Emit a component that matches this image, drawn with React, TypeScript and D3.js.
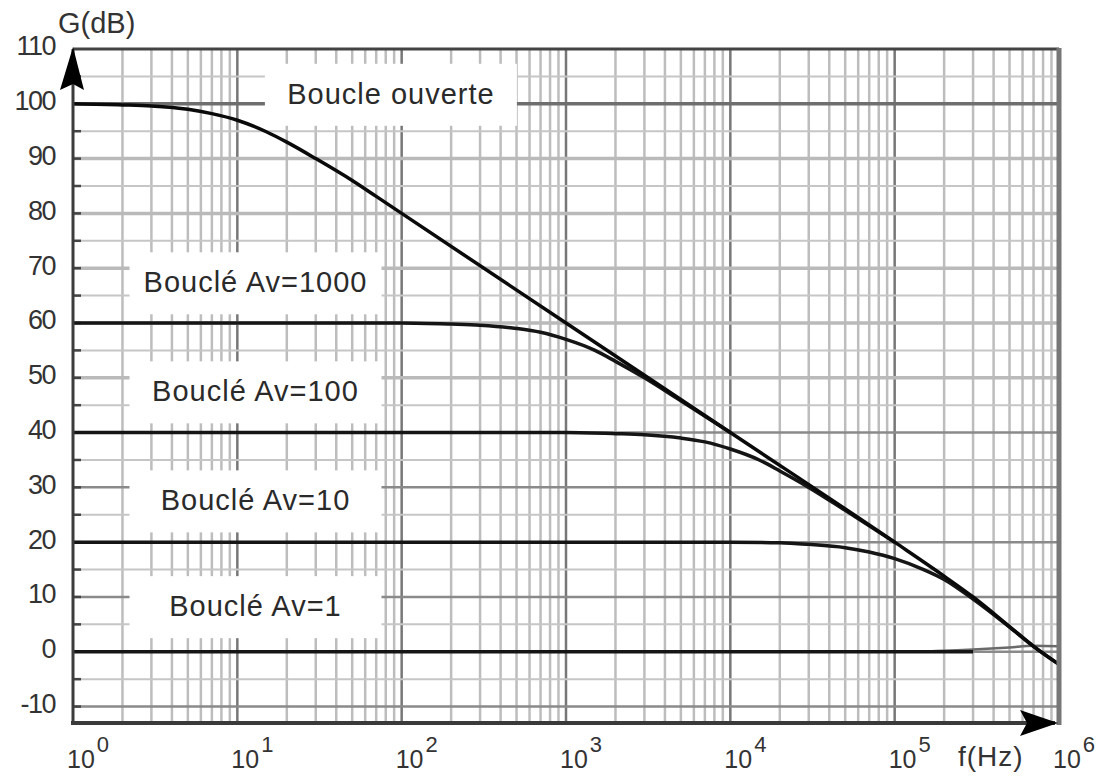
import { useEffect, useRef } from 'react';
import * as d3 from 'd3';

const W = 1097;
const H = 776;

// gain curves: [frequency (Hz), gain (dB)]
const openLoop: [number, number][] = [
  [1, 100], [2, 99.8], [3, 99.6], [5, 99], [7, 98.2], [10, 97], [15, 94.9],
  [20, 93], [30, 90], [50, 86], [70, 83.1], [100, 80], [1e3, 60], [1e4, 40], [1e5, 20],
  [2e5, 13.8], [3e5, 10], [5e5, 4.6], [7e5, 1], [1e6, -2.3],
];
const av1000: [number, number][] = [
  [1, 60], [100, 60], [200, 59.8], [300, 59.6], [500, 59], [700, 58.3],
  [1e3, 57], [1.5e3, 55], [2e3, 53], [3e3, 50], [5e3, 45.8], [1e4, 40],
];
const av100: [number, number][] = [
  [1, 40], [1e3, 40], [2e3, 39.8], [3e3, 39.6], [5e3, 39], [7e3, 38.3],
  [1e4, 37], [1.5e4, 35], [2e4, 33], [3e4, 30], [5e4, 25.8], [1e5, 20],
];
const av10: [number, number][] = [
  [1, 20], [1e4, 20], [2e4, 19.9], [3e4, 19.6], [5e4, 19], [7e4, 18.2],
  [1e5, 17], [1.5e5, 15], [2e5, 13.2], [3e5, 9.6], [5e5, 4.5], [7e5, 1], [1e6, -2.3],
];
const av1: [number, number][] = [[1, 0], [1e5, 0], [3e5, 0]];
const av1Tail: [number, number][] = [[1.4e5, 0], [3e5, 0.4], [5e5, 0.8], [7e5, 1.1], [1e6, 1]];

const yTicks = [110, 100, 90, 80, 70, 60, 50, 40, 30, 20, 10, 0, -10];
const xDecades = [0, 1, 2, 3, 4, 5, 6];

// curve labels: centre frequency and baseline gain
const labels = [
  { text: 'Boucle ouverte', f: 86, db: 100 },
  { text: 'Bouclé Av=1000', f: 12.9, db: 65.6 },
  { text: 'Bouclé Av=100', f: 12.9, db: 45.7 },
  { text: 'Bouclé Av=10', f: 12.9, db: 25.8 },
  { text: 'Bouclé Av=1', f: 12.9, db: 6.5 },
];

const FONT = '"Liberation Sans", Arial, sans-serif';

export default function App() {
  const svgRef = useRef<SVGSVGElement>(null);

  useEffect(() => {
    if (!svgRef.current) return;
    const svg = d3.select(svgRef.current);
    svg.selectAll('*').remove();

    const x = d3.scaleLog().domain([1, 1e6]).range([73, 1059]);
    const y = d3.scaleLinear().domain([-13, 110]).range([723, 49]);
    const [x0, x1] = x.range();
    const [y0, y1] = y.range();

    svg.append('rect').attr('width', W).attr('height', H).attr('fill', '#fff');

    // vertical grid
    const minorF = d3.range(0, 6).flatMap((d) => d3.range(2, 10).map((k) => k * 10 ** d));
    const majorF = d3.range(1, 6).map((d) => 10 ** d);
    svg.append('g')
      .selectAll('line')
      .data(minorF)
      .join('line')
      .attr('x1', (d) => x(d)).attr('x2', (d) => x(d))
      .attr('y1', y1).attr('y2', y0)
      .attr('stroke', '#bdbdbd')
      .attr('stroke-width', 2.5);
    svg.append('g')
      .selectAll('line')
      .data(majorF)
      .join('line')
      .attr('x1', (d) => x(d)).attr('x2', (d) => x(d))
      .attr('y1', y1).attr('y2', y0)
      .attr('stroke', '#777')
      .attr('stroke-width', 2.5);

    // horizontal grid, every 5 dB
    const hLines = d3.range(-10, 110, 5);
    svg.append('g')
      .selectAll('line')
      .data(hLines)
      .join('line')
      .attr('x1', x0).attr('x2', x1)
      .attr('y1', (d) => y(d)).attr('y2', (d) => y(d))
      .attr('stroke', (d) =>
        d === 100 ? '#6e6e6e' : d % 10 === 0 ? (d <= 40 ? '#8a8a8a' : '#bababa') : '#c6c6c6')
      .attr('stroke-width', (d) => (d % 10 === 0 ? (d <= 40 ? 2.5 : 3.5) : 2));

    // tick stubs on the left axis
    svg.append('g')
      .selectAll('line')
      .data(hLines)
      .join('line')
      .attr('x1', x0).attr('x2', x0 + 8)
      .attr('y1', (d) => y(d)).attr('y2', (d) => y(d))
      .attr('stroke', '#444')
      .attr('stroke-width', 2.5);

    // white boxes behind the labels
    svg.append('g')
      .selectAll('rect')
      .data(labels)
      .join('rect')
      .attr('x', (d) => x(d.f) - 126)
      .attr('y', (d) => y(d.db) - 40)
      .attr('width', 252)
      .attr('height', 62)
      .attr('fill', '#fff');

    // curves
    const line = d3.line<[number, number]>()
      .x((d) => x(d[0]))
      .y((d) => y(d[1]))
      .curve(d3.curveMonotoneX);

    svg.append('path').attr('d', line(av1Tail)).attr('fill', 'none')
      .attr('stroke', '#6a6a6a').attr('stroke-width', 2.5);
    [av1, av10, av100, av1000].forEach((data) => {
      svg.append('path').attr('d', line(data)).attr('fill', 'none')
        .attr('stroke', '#151515').attr('stroke-width', 3.5)
        .attr('stroke-linejoin', 'round');
    });
    svg.append('path').attr('d', line(openLoop)).attr('fill', 'none')
      .attr('stroke', '#0a0a0a').attr('stroke-width', 3.5)
      .attr('stroke-linejoin', 'round');

    // frame
    svg.append('line').attr('x1', x0).attr('x2', x1).attr('y1', y1).attr('y2', y1)
      .attr('stroke', '#444').attr('stroke-width', 3);
    svg.append('line').attr('x1', x1).attr('x2', x1).attr('y1', y1 - 1).attr('y2', y0 + 2)
      .attr('stroke', '#777').attr('stroke-width', 5);
    svg.append('line').attr('x1', x0).attr('x2', x0).attr('y1', y1).attr('y2', y0 + 2)
      .attr('stroke', '#3c3c3c').attr('stroke-width', 3);
    svg.append('line').attr('x1', x0 - 2).attr('x2', x1 - 4).attr('y1', y0).attr('y2', y0)
      .attr('stroke', '#3a3a3a').attr('stroke-width', 4);

    // arrows
    svg.append('path')
      .attr('d', `M${x0},${y1 - 2} L${x0 - 13},${y1 + 41} L${x0},${y1 + 35} L${x0 + 11},${y1 + 41} Z`)
      .attr('fill', '#000');
    svg.append('path')
      .attr('d', `M${x1 - 1},${y0} L${x1 - 39},${y0 - 13} L${x1 - 32},${y0} L${x1 - 39},${y0 + 13} Z`)
      .attr('fill', '#000');

    // y tick labels
    svg.append('g')
      .selectAll('text')
      .data(yTicks)
      .join('text')
      .attr('x', 55)
      .attr('y', (d) => y(d) - 3)
      .attr('dy', '0.35em')
      .attr('text-anchor', 'end')
      .attr('font-family', FONT)
      .attr('font-size', 27)
      .attr('letter-spacing', -1.5)
      .attr('fill', '#333')
      .text((d) => String(d));

    // x tick labels 10^n
    const xl = svg.append('g')
      .selectAll('text')
      .data(xDecades)
      .join('text')
      .attr('x', (d) => x(10 ** d) - 6)
      .attr('y', 768)
      .attr('font-family', FONT)
      .attr('font-size', 25)
      .attr('fill', '#333');
    xl.append('tspan').text('10');
    xl.append('tspan').attr('dx', 2).attr('dy', -16).attr('font-size', 22).text((d) => String(d));

    // axis titles
    svg.append('text').attr('x', 58).attr('y', 33)
      .attr('font-family', FONT).attr('font-size', 29).attr('fill', '#333')
      .text('G(dB)');
    svg.append('text').attr('x', 958).attr('y', 766)
      .attr('font-family', FONT).attr('font-size', 28).attr('letter-spacing', 1).attr('fill', '#333')
      .text('f(Hz)');

    // curve labels
    svg.append('g')
      .selectAll('text')
      .data(labels)
      .join('text')
      .attr('x', (d) => x(d.f))
      .attr('y', (d) => y(d.db))
      .attr('text-anchor', 'middle')
      .attr('font-family', FONT)
      .attr('font-size', 29)
      .attr('letter-spacing', 1)
      .attr('fill', '#2a2a2a')
      .text((d) => d.text);

    return () => {
      svg.selectAll('*').remove();
    };
  }, []);

  return (
    <svg
      ref={svgRef}
      width={W}
      height={H}
      viewBox={`0 0 ${W} ${H}`}
      style={{ position: 'absolute', left: 0, top: 0, display: 'block' }}
    />
  );
}
